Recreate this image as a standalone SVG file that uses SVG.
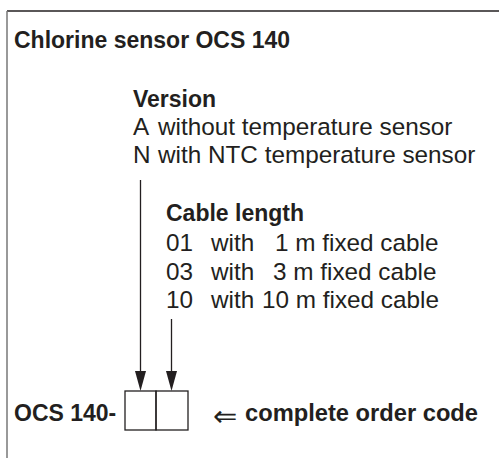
<svg xmlns="http://www.w3.org/2000/svg" width="499" height="458" viewBox="0 0 499 458">
<style>
text{font-family:"Liberation Sans",Arial,sans-serif;font-size:24.3px;fill:#231f20}
.b{font-weight:bold;font-size:23px}
.ln{stroke:#231f20;stroke-width:1.3;fill:none}
.ah{fill:#231f20}
</style>
<rect width="499" height="458" fill="#fff"/>
<g id="frame">
<line x1="7" y1="11" x2="499" y2="11" stroke="#231f20" stroke-width="1.5"/>
<line x1="7" y1="11" x2="7" y2="458" stroke="#777" stroke-width="1.5"/>
</g>
<g id="title"><text class="b" x="14" y="48">Chlorine sensor OCS 140</text></g>
<g id="version">
<text class="b" x="133" y="107">Version</text>
<text x="133" y="135">A</text><text x="158" y="135">without temperature sensor</text>
<text x="133" y="163">N</text><text x="158" y="163">with NTC temperature sensor</text>
</g>
<g id="cable">
<text class="b" x="166" y="221">Cable length</text>
<text x="166" y="251">01</text><text x="211" y="251">with</text><text x="275" y="251">1 m fixed cable</text>
<text x="166" y="280">03</text><text x="211" y="280">with</text><text x="273" y="280">3 m fixed cable</text>
<text x="166" y="308">10</text><text x="211" y="308">with</text><text x="262" y="308">10 m fixed cable</text>
</g>
<g id="code">
<text class="b" x="14" y="421">OCS 140-</text>
<rect x="125" y="391" width="31" height="39" class="ln"/>
<rect x="156" y="391" width="32" height="39" class="ln"/>
<text x="213" y="426" style="font-size:29px">⇐</text>
<text class="b" x="245" y="421" textLength="233" lengthAdjust="spacingAndGlyphs">complete order code</text>
</g>
<g id="connectors">
<path d="M140.5,180 V371" class="ln"/>
<path d="M135,371 L140.5,391 L146,371 Z" class="ah"/>
<path d="M171.5,319 V371" class="ln"/>
<path d="M166,371 L171.5,391 L177,371 Z" class="ah"/>
</g>
</svg>
